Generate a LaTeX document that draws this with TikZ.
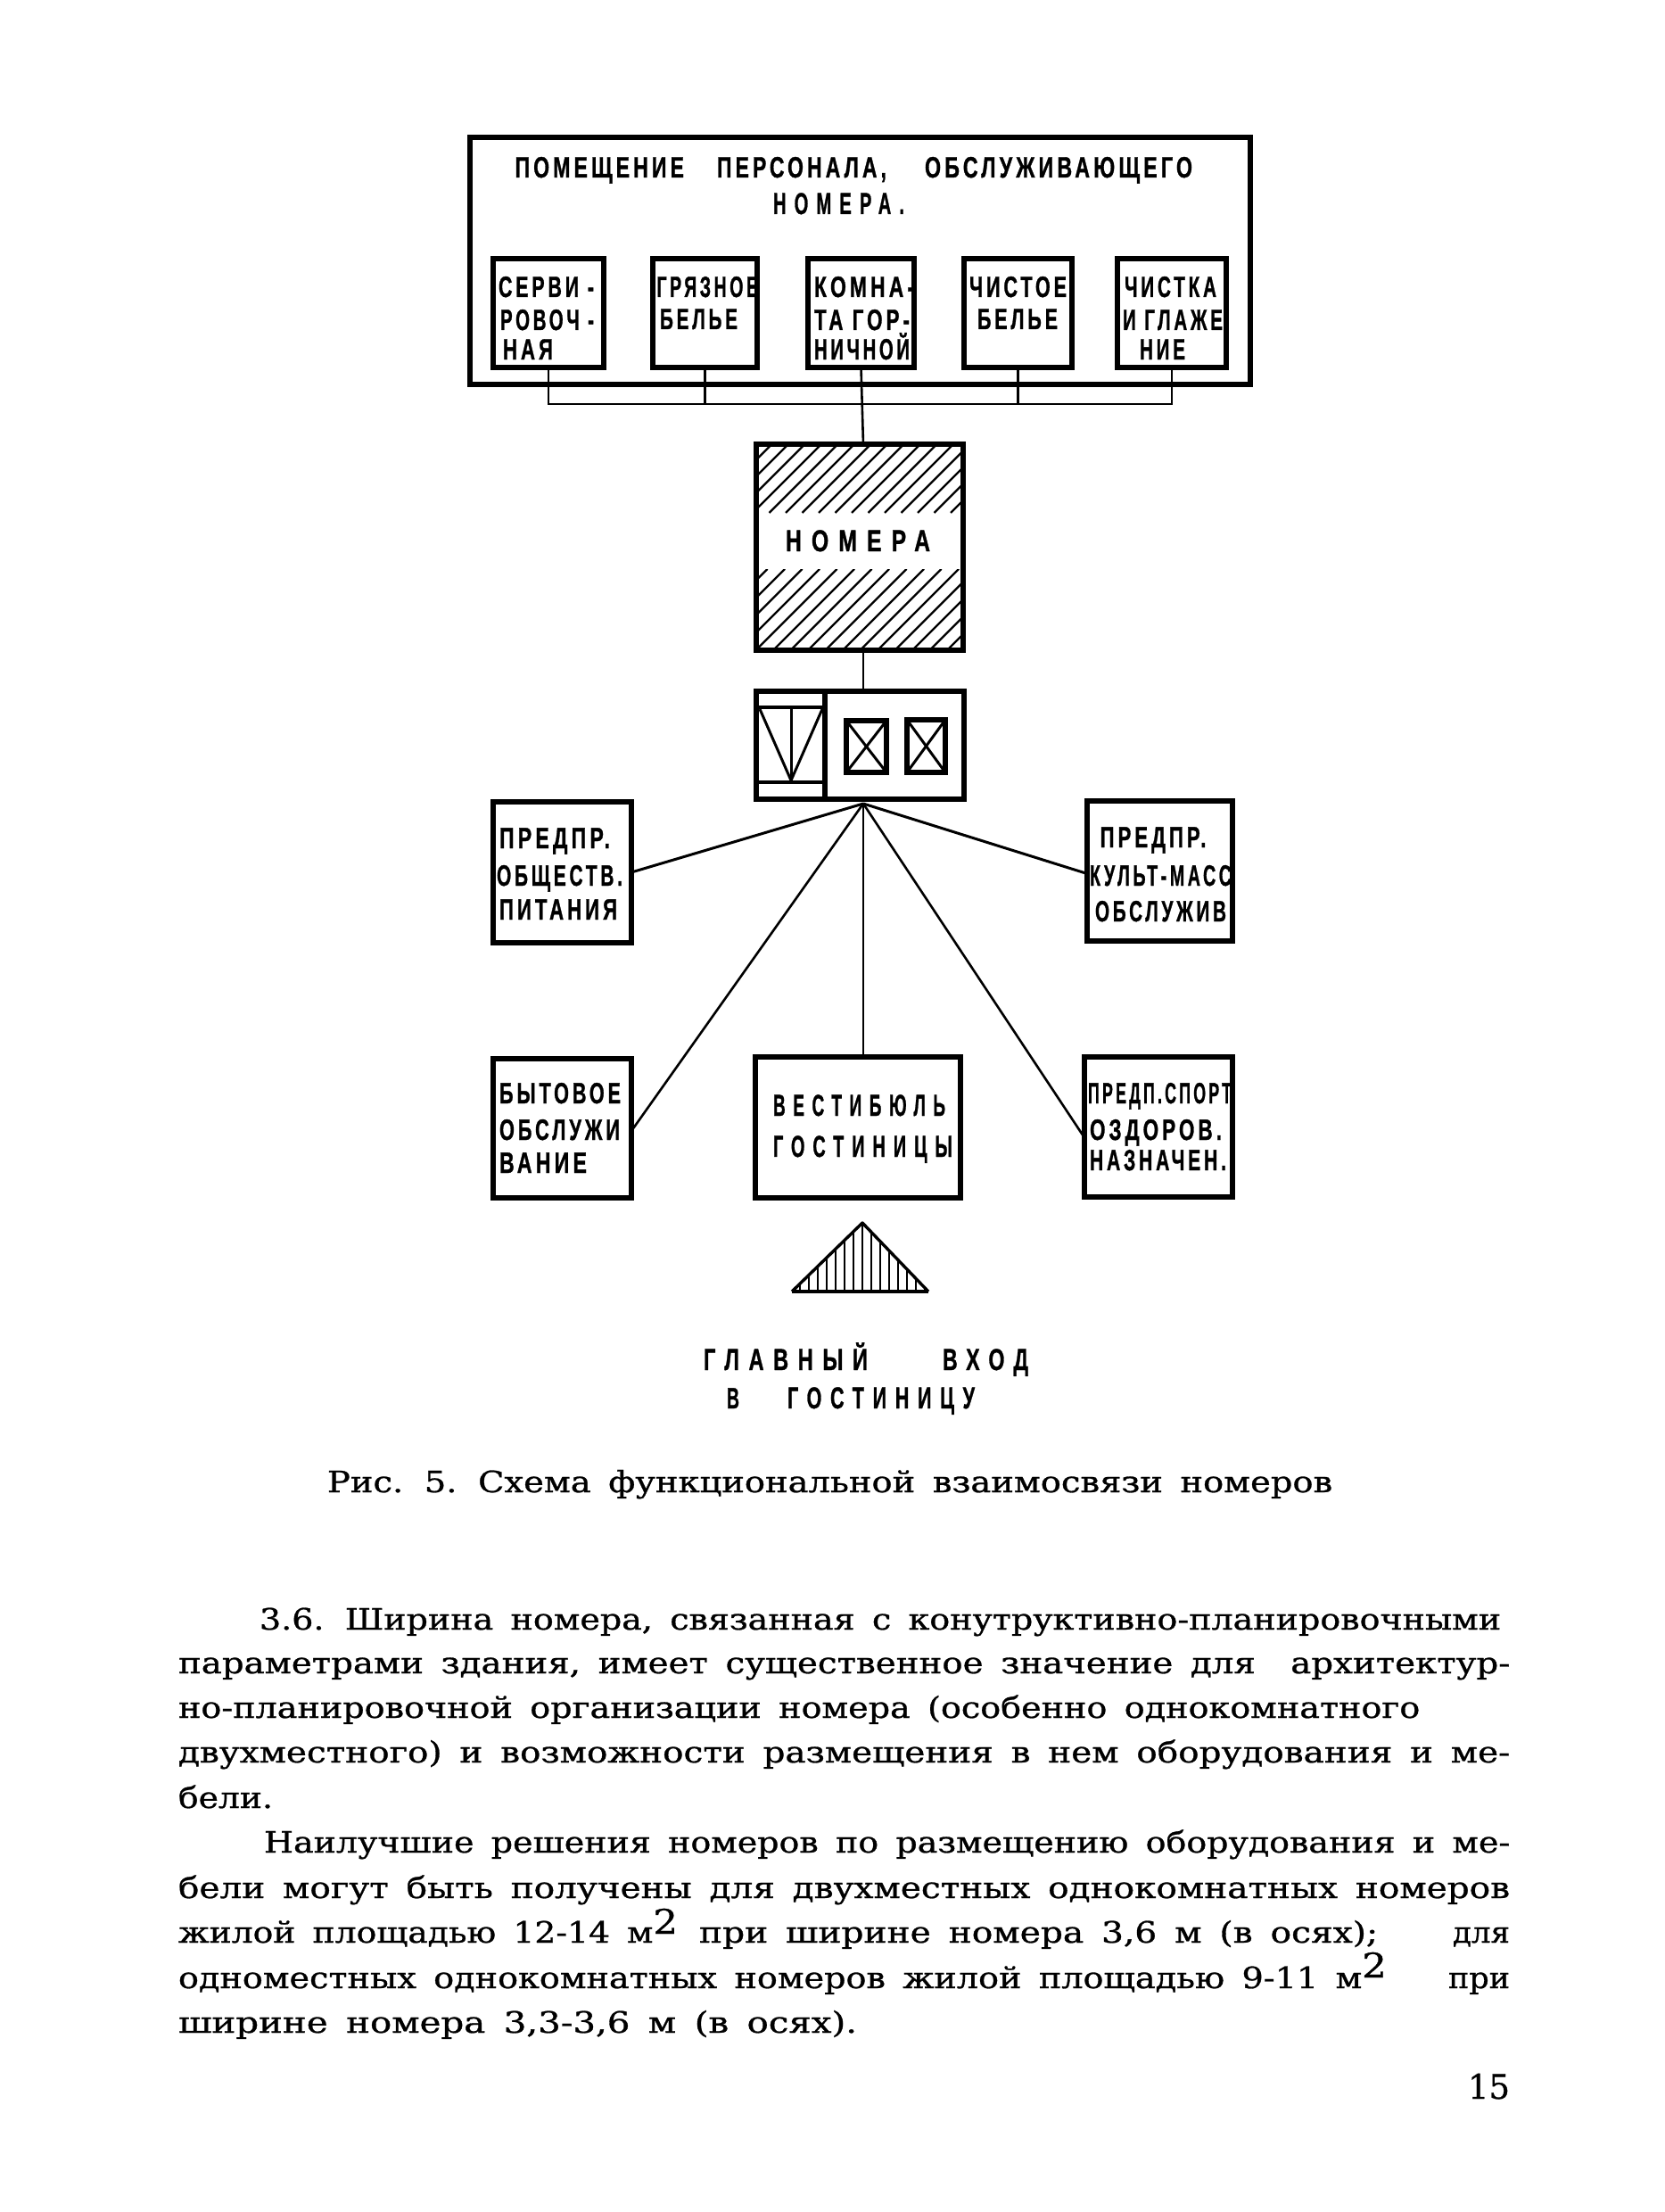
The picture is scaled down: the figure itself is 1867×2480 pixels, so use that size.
\documentclass[tikz,border=0pt]{standalone}
\usepackage{fontspec}
\usepackage{graphicx}
\newfontfamily\lfam[LetterSpace=18,FakeBold=1.2]{Liberation Sans}
\newfontfamily\lwidefam[LetterSpace=45,FakeBold=1.2]{Liberation Sans}
\newfontfamily\bfam[FakeBold=0.8,WordSpace=1.6]{DejaVu Serif}
\newcommand{\lsmall}{\lfam\bfseries\fontsize{33}{40}\selectfont}
\newcommand{\lwide}{\lwidefam\bfseries\fontsize{34}{40}\selectfont}
\newcommand{\btext}{\bfam\fontsize{33}{40}\selectfont}
\newcommand{\bnum}{\bfam\fontsize{38}{40}\selectfont}
% name, x0, x1, baseline, font, text
\newcommand{\txt}[6]{\node[txtnode] (#1) at (#2,#4) {\resizebox{\dimexpr #3pt-#2pt\relax}{\height}{#5#6}};}
\newcommand{\sq}[1]{\raisebox{#1pt}{\fontsize{38}{40}\selectfont 2}}
\tikzset{
  txtnode/.style={anchor=base west,inner sep=0pt,outer sep=0pt,text=black},
  heavybox/.style={draw=black,line width=5.5pt,inner sep=0pt,outer sep=0pt,anchor=north west,fill=white},
  outline/.style={draw=black,line width=5.5pt,inner sep=0pt,outer sep=0pt,anchor=north west},
  thinline/.style={draw=black,line width=2.6pt},
  midline/.style={draw=black,line width=3pt},
  barline/.style={draw=black,line width=4.5pt},
  hatchline/.style={draw=black,line width=2.2pt},
  triline/.style={draw=black,line width=3.4pt},
  crossline/.style={draw=black,line width=3pt}
}
\newcommand{\bx}[5]{\node[heavybox,minimum width=#4pt-#2pt,minimum height=#5pt-#3pt] (#1) at (#2,#3) {};}
\begin{document}
\begin{tikzpicture}[x=1pt,y=-1pt]
\useasboundingbox (0,0) rectangle (1867,2480);
\fill[white] (0,0) rectangle (1867,2480);
\coordinate (hub) at (968,901);
\coordinate (bus) at (966,453);
% top block
\bx{outer}{527}{154}{1402}{431}
\bx{sa}{553}{290}{677}{412}
\bx{sb}{732}{290}{849}{412}
\bx{sc}{906}{290}{1025}{412}
\bx{sd}{1081}{290}{1202}{412}
\bx{se}{1253}{290}{1375}{412}
\draw[thinline] (sa.south) |- (bus);
\draw[thinline] (se.south) |- (bus);
\draw[thinline] (sb.south) -- (sb.south |- bus);
\draw[thinline] (sd.south) -- (sd.south |- bus);
% rooms
\bx{nom}{848}{498}{1080}{729}
\draw[thinline] (sc.south) -- (hub |- nom.north);
\begin{scope}
  \clip (848,498) rectangle (1080,575);
  \foreach \h in {770,788.5,...,1090} {\draw[hatchline] (\h,575) -- (\h+80,495);}
\end{scope}
\begin{scope}
  \clip (848,638) rectangle (1080,729);
  \foreach \h in {750,769.5,...,1090} {\draw[hatchline] (\h,729) -- (\h+91,638);}
\end{scope}
\node[outline,minimum width=232pt,minimum height=231pt] (nomframe) at (848,498) {};
% core
\bx{ul}{848}{775}{925}{896}
\bx{ur}{925}{775}{1081}{896}
\draw[thinline] (hub |- nom.south) -- (hub |- ur.north);
\coordinate (ta) at (852,795);
\coordinate (tb) at (887,795);
\coordinate (tc) at (922,795);
\coordinate (td) at (887,875);
\draw[barline] (ul.west |- 0,793) -- (ul.east |- 0,793);
\draw[barline] (ul.west |- 0,877) -- (ul.east |- 0,877);
\draw[crossline] (ta) -- (td) -- (tc);
\draw[crossline] (tb) -- (td);
\bx{ea}{949}{808}{994}{866}
\bx{eb}{1017}{807}{1060}{866}
\draw[crossline] (ea.north west) -- (ea.south east);
\draw[crossline] (ea.north east) -- (ea.south west);
\draw[crossline] (eb.north west) -- (eb.south east);
\draw[crossline] (eb.north east) -- (eb.south west);
% satellites
\bx{la}{553}{899}{708}{1057}
\bx{ra}{1219}{898}{1382}{1055}
\bx{lb}{553}{1187}{708}{1343}
\bx{vest}{847}{1185}{1077}{1343}
\bx{rb}{1216}{1185}{1382}{1342}
\draw[midline] (hub) -- (la.east);
\draw[midline] (hub) -- ([yshift=-3pt]ra.west);
\draw[thinline] (hub) -- ([yshift=-3pt]lb.east);
\draw[thinline] (hub) -- (hub |- vest.north);
\draw[thinline] (hub) -- ([yshift=-12pt]rb.west);
% entrance triangle
\coordinate (apex) at (967,1371);
\coordinate (bl) at (888,1448);
\coordinate (br) at (1041,1448);
\begin{scope}
  \clip (apex) -- (bl) -- (br) -- cycle;
  \foreach \h in {887,897,...,1047} {\draw[hatchline] (\h,1365) -- (\h,1450);}
\end{scope}
\draw[triline,line join=round] (bl) -- (apex) -- (br);
\draw[line width=4.5pt] (bl) -- (br);
% labels
\txt{ta1}{577.5}{767}{199}{\lsmall}{ПОМЕЩЕНИЕ}
\txt{ta2}{804}{994}{199}{\lsmall}{ПЕРСОНАЛА,}
\txt{ta3}{1037}{1337}{199}{\lsmall}{ОБСЛУЖИВАЮЩЕГО}
\txt{ta4}{867}{1014}{240}{\lwide}{НОМЕРА.}
\txt{a1}{559}{666}{333}{\lsmall}{СЕРВИ -}
\txt{a2}{561}{666}{370}{\lsmall}{РОВОЧ -}
\txt{a3}{564}{620}{403}{\lsmall}{НАЯ}
\txt{b1}{736.5}{850}{333}{\lsmall}{ГРЯЗНОЕ}
\txt{b2}{740}{827}{369}{\lsmall}{БЕЛЬЕ}
\txt{c1}{913}{1025}{333}{\lsmall}{КОМНА-}
\txt{c2}{913}{1020}{370}{\lsmall}{ТА ГОР-}
\txt{c3}{913}{1020}{403}{\lsmall}{НИЧНОЙ}
\txt{d1}{1087}{1196}{333}{\lsmall}{ЧИСТОЕ}
\txt{d2}{1096}{1186}{369}{\lsmall}{БЕЛЬЕ}
\txt{e1}{1261}{1364}{333}{\lsmall}{ЧИСТКА}
\txt{e2}{1259}{1371}{370}{\lsmall}{И ГЛАЖЕ}
\txt{e3}{1278}{1329}{403}{\lsmall}{НИЕ}
\txt{n1}{881}{1043}{618}{\lwide}{НОМЕРА}
\txt{p1}{560}{684}{951}{\lsmall}{ПРЕДПР.}
\txt{p2}{557}{698}{993}{\lsmall}{ОБЩЕСТВ.}
\txt{p3}{560}{692}{1031}{\lsmall}{ПИТАНИЯ}
\txt{q1}{1233.6}{1352.5}{950}{\lsmall}{ПРЕДПР.}
\txt{q2}{1222}{1381}{993}{\lsmall}{КУЛЬТ-МАСС}
\txt{q3}{1228}{1375}{1033}{\lsmall}{ОБСЛУЖИВ}
\txt{r1}{560}{696}{1237}{\lsmall}{БЫТОВОЕ}
\txt{r2}{560}{695}{1278}{\lsmall}{ОБСЛУЖИ}
\txt{r3}{560}{658}{1315}{\lsmall}{ВАНИЕ}
\txt{v1}{867}{1060}{1251}{\lwide}{ВЕСТИБЮЛЬ}
\txt{v2}{867}{1068}{1297}{\lwide}{ГОСТИНИЦЫ}
\txt{s1}{1220}{1381}{1237}{\lsmall}{ПРЕДП.СПОРТ}
\txt{s2}{1222}{1370}{1278}{\lsmall}{ОЗДОРОВ.}
\txt{s3}{1222}{1375}{1312}{\lsmall}{НАЗНАЧЕН.}
\txt{g1}{789}{973}{1536}{\lwide}{ГЛАВНЫЙ}
\txt{g2}{1057}{1153}{1536}{\lwide}{ВХОД}
\txt{g3}{815}{829}{1579}{\lsmall}{В}
\txt{g4}{883}{1093}{1579}{\lwide}{ГОСТИНИЦУ}
% printed text
\txt{cap}{367}{1494}{1673}{\btext}{Рис. 5. Схема функциональной взаимосвязи номеров}
\txt{l1}{291}{1683}{1827}{\btext}{3.6. Ширина номера, связанная с конутруктивно-планировочными}
\txt{l2}{200}{1693}{1876}{\btext}{параметрами здания, имеет существенное значение для\ \ архитектур-}
\txt{l3}{200}{1592}{1926}{\btext}{но-планировочной организации номера (особенно однокомнатного}
\txt{l4}{200}{1693}{1976}{\btext}{двухместного) и возможности размещения в нем оборудования и ме-}
\txt{l5}{200}{306}{2027}{\btext}{бели.}
\txt{m1}{296}{1693}{2077}{\btext}{Наилучшие решения номеров по размещению оборудования и ме-}
\txt{m2}{200}{1693}{2128}{\btext}{бели могут быть получены для двухместных однокомнатных номеров}
\txt{m3}{200}{760}{2178}{\btext}{жилой площадью 12-14 м\sq{10}}
\txt{m3a}{784}{1545}{2178}{\btext}{при ширине номера 3,6 м (в осях);}
\txt{m3b}{1629}{1693}{2178}{\btext}{для}
\txt{m4}{200}{1555}{2229}{\btext}{одноместных однокомнатных номеров жилой площадью 9-11 м\sq{12}}
\txt{m4b}{1624}{1693}{2229}{\btext}{при}
\txt{m5}{200}{961}{2279}{\btext}{ширине номера 3,3-3,6 м (в осях).}
\txt{pg}{1646}{1693}{2353}{\bnum}{15}
\end{tikzpicture}
\end{document}
